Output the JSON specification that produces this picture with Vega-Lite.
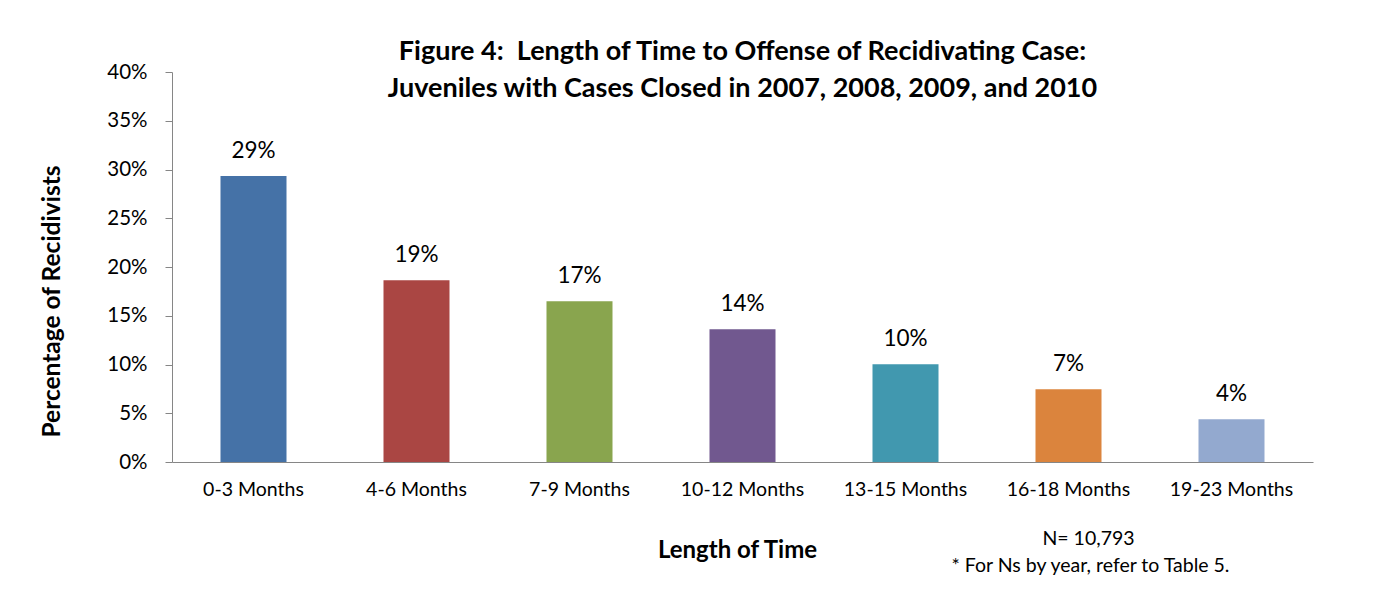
{
  "$schema": "https://vega.github.io/schema/vega-lite/v6.json",
  "width": 1141,
  "height": 390,
  "autosize": "none",
  "padding": {"left": 172, "top": 72, "right": 74, "bottom": 136},
  "background": "white",
  "config": {"font": "Lato", "view": {"stroke": null}},
  "title": {
    "text": ["Figure 4:\u00a0 Length of Time to Offense of Recidivating Case:", "Juveniles with Cases Closed in 2007, 2008, 2009, and 2010"],
    "fontSize": 27,
    "fontWeight": "bold",
    "color": "black",
    "anchor": "middle",
    "lineHeight": 37,
    "offset": 0,
    "baseline": "top",
    "dy": 41
  },
  "datasets": {
    "bars": [
      {"period": "0-3 Months", "pct": 0.2933},
      {"period": "4-6 Months", "pct": 0.1865},
      {"period": "7-9 Months", "pct": 0.165},
      {"period": "10-12 Months", "pct": 0.1362},
      {"period": "13-15 Months", "pct": 0.1003},
      {"period": "16-18 Months", "pct": 0.0746},
      {"period": "19-23 Months", "pct": 0.0438}
    ],
    "note": [
      {"line1": "N= 10,793", "line2": "* For Ns by year, refer to Table 5."}
    ]
  },
  "layer": [
    {
      "data": {"name": "bars"},
      "mark": {"type": "bar"},
      "encoding": {
        "x": {
          "field": "period",
          "type": "nominal",
          "sort": null,
          "scale": {"paddingInner": 0.595, "paddingOuter": 0.2975},
          "axis": {
            "labelAngle": 0,
            "labelFontSize": 19.5,
            "labelColor": "black",
            "labelPadding": 18,
            "ticks": false,
            "domainColor": "#868686",
            "title": "Length of Time",
            "titleFontSize": 24,
            "titleFontWeight": "bold",
            "titleColor": "black",
            "titlePadding": 40,
            "titleX": 565
          }
        },
        "y": {
          "field": "pct",
          "type": "quantitative",
          "scale": {"domain": [0, 0.4]},
          "axis": {
            "format": ".0%",
            "values": [0, 0.05, 0.1, 0.15, 0.2, 0.25, 0.3, 0.35, 0.4],
            "grid": false,
            "labelFontSize": 20.5,
            "labelColor": "black",
            "labelPadding": 18,
            "tickSize": 7,
            "tickColor": "#868686",
            "domainColor": "#868686",
            "title": "Percentage of Recidivists",
            "titleFontSize": 24.5,
            "titleFontWeight": "bold",
            "titleColor": "black",
            "titleAngle": 270,
            "titleAlign": "center",
            "titleBaseline": "middle",
            "titleX": -120,
            "titleY": 229
          }
        },
        "color": {
          "field": "period",
          "type": "nominal",
          "sort": null,
          "scale": {"range": ["#4572A7", "#AA4643", "#89A54E", "#71588F", "#4198AF", "#DB843D", "#93A9CF"]},
          "legend": null
        }
      }
    },
    {
      "data": {"name": "bars"},
      "mark": {"type": "text", "baseline": "alphabetic", "dy": -18, "fontSize": 22.5, "color": "black"},
      "encoding": {
        "x": {"field": "period", "type": "nominal", "sort": null},
        "y": {"field": "pct", "type": "quantitative"},
        "text": {"field": "pct", "type": "quantitative", "format": ".0%"}
      }
    },
    {
      "data": {"name": "note"},
      "mark": {"type": "text", "baseline": "middle", "fontSize": 19.5, "fontWeight": "normal", "color": "black", "dx": 20},
      "encoding": {
        "x": {"datum": "16-18 Months"},
        "y": {"datum": -0.079},
        "text": {"field": "line1"}
      }
    },
    {
      "data": {"name": "note"},
      "mark": {"type": "text", "baseline": "middle", "fontSize": 19.5, "fontWeight": "normal", "color": "black", "dx": 22},
      "encoding": {
        "x": {"datum": "16-18 Months"},
        "y": {"datum": -0.107},
        "text": {"field": "line2"}
      }
    }
  ]
}
